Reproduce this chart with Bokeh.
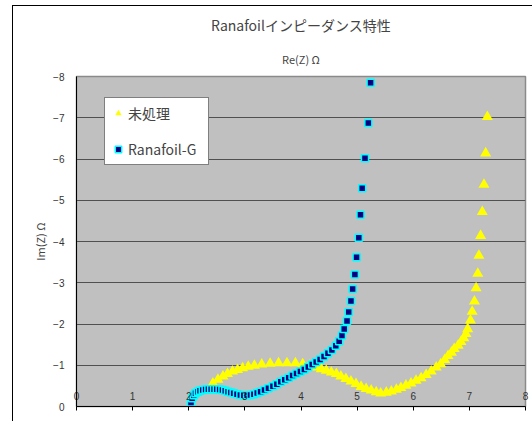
import math
from bokeh.plotting import figure
from bokeh.layouts import column
from bokeh.models import Range1d, Legend, LegendItem, Title
from bokeh.embed import file_html
from bokeh.resources import INLINE

title_text = "Ranafoilインピーダンス特性"
x_title = "Re(Z) Ω"
y_title = "Im(Z) Ω"
series_names = ["未処理", "Ranafoil-G"]
x_ticks = [0, 1, 2, 3, 4, 5, 6, 7, 8]
y_ticks = [0, -1, -2, -3, -4, -5, -6, -7, -8]
y_tick_labels = ["0", "−1", "−2", "−3", "−4", "−5", "−6", "−7", "−8"]

re_untreated = [2.43, 2.52, 2.61, 2.69, 2.78, 2.87, 2.96, 3.06, 3.17, 3.30, 3.45, 3.60,
                3.75, 3.90, 4.03, 4.15, 4.27, 4.36, 4.45, 4.54, 4.63, 4.71, 4.80, 4.89,
                4.98, 5.07, 5.16, 5.25, 5.34, 5.42, 5.52, 5.61, 5.70, 5.78, 5.87, 5.96,
                6.05, 6.14, 6.23, 6.32, 6.41, 6.49, 6.56, 6.62, 6.68, 6.73, 6.80, 6.85,
                6.90, 6.94, 6.97, 7.02, 7.05, 7.09, 7.12, 7.15, 7.17, 7.20, 7.23, 7.26,
                7.29, 7.32]
im_untreated = [-0.56, -0.65, -0.73, -0.79, -0.85, -0.89, -0.93, -0.97, -0.99, -1.02, -1.04, -1.05,
                -1.05, -1.05, -1.03, -0.99, -0.95, -0.91, -0.87, -0.83, -0.79, -0.73, -0.67, -0.61,
                -0.55, -0.48, -0.43, -0.39, -0.35, -0.32, -0.34, -0.37, -0.41, -0.45, -0.51, -0.56,
                -0.63, -0.69, -0.77, -0.85, -0.95, -1.03, -1.13, -1.23, -1.31, -1.40, -1.48, -1.57,
                -1.66, -1.76, -1.88, -2.09, -2.30, -2.55, -2.87, -3.22, -3.66, -4.14, -4.72, -5.38,
                -6.14, -7.02]

re_ranafoil = [2.04, 2.06, 2.09, 2.12, 2.16, 2.20, 2.25, 2.30, 2.35, 2.40, 2.45, 2.50,
               2.55, 2.60, 2.65, 2.70, 2.75, 2.80, 2.86, 2.92, 2.98, 3.04, 3.10, 3.16,
               3.22, 3.28, 3.35, 3.42, 3.50, 3.57, 3.64, 3.71, 3.78, 3.85, 3.92, 3.99,
               4.06, 4.13, 4.20, 4.27, 4.34, 4.41, 4.48, 4.55, 4.62, 4.68, 4.73, 4.77,
               4.82, 4.85, 4.89, 4.92, 4.96, 4.99, 5.03, 5.06, 5.09, 5.14, 5.20, 5.24]
im_ranafoil = [-0.10, -0.20, -0.27, -0.32, -0.36, -0.38, -0.40, -0.41, -0.42, -0.42, -0.42, -0.42,
               -0.41, -0.40, -0.38, -0.36, -0.34, -0.32, -0.30, -0.28, -0.27, -0.27, -0.28, -0.30,
               -0.33, -0.36, -0.40, -0.44, -0.49, -0.54, -0.60, -0.65, -0.70, -0.75, -0.80, -0.85,
               -0.90, -0.96, -1.02, -1.08, -1.14, -1.21, -1.29, -1.37, -1.47, -1.58, -1.72, -1.88,
               -2.07, -2.29, -2.56, -2.85, -3.20, -3.62, -4.09, -4.65, -5.29, -6.02, -6.87, -7.85]

CJK = "Noto Sans CJK JP"

p = figure(width=519, height=415, output_backend="svg", toolbar_location=None,
           x_range=Range1d(x_ticks[0], x_ticks[-1]), y_range=Range1d(y_ticks[0], y_ticks[-1]),
           min_border_left=63, min_border_right=7, min_border_top=70, min_border_bottom=15,
           title=None)
p.margin = 0
p.background_fill_color = "#C0C0C0"
p.border_fill_color = "white"
p.outline_line_color = "#8a8a8a"
p.outline_line_width = 1.5

p.xgrid.visible = False
p.ygrid.ticker = y_ticks
p.ygrid.grid_line_color = "#505050"
p.ygrid.grid_line_width = 1.2

p.xaxis.ticker = x_ticks
p.xaxis.major_label_standoff = -19
p.xaxis.major_tick_out = 4
p.xaxis.major_tick_in = 0
p.xaxis.minor_tick_line_color = None
p.xaxis.axis_line_color = "black"
p.xaxis.major_tick_line_color = "black"
p.xaxis.major_label_text_font = "Liberation Sans"
p.xaxis.major_label_text_font_size = "10px"
p.xaxis.major_label_text_color = "#333333"

p.yaxis.ticker = y_ticks
p.yaxis.major_label_overrides = {t: s for t, s in zip(y_ticks, y_tick_labels)}
p.yaxis.major_tick_out = 0
p.yaxis.major_tick_in = 0
p.yaxis.minor_tick_line_color = None
p.yaxis.major_label_standoff = 12
p.yaxis.axis_line_color = "black"
p.yaxis.major_label_text_font = "Liberation Sans"
p.yaxis.major_label_text_font_size = "10px"
p.yaxis.major_label_text_color = "#333333"

r1 = p.scatter(re_untreated, im_untreated, marker="triangle", size=11,
               fill_color="#FFFF00", line_color=None)
r2 = p.scatter(re_ranafoil, im_ranafoil, marker="square", size=7,
               fill_color="#000080", line_color="#00FFFF", line_width=1.5)

legend = Legend(items=[LegendItem(label=series_names[0], renderers=[r1]),
                       LegendItem(label=series_names[1], renderers=[r2])],
                location=(28, 241), padding=5, spacing=16, glyph_width=16, glyph_height=20,
                label_height=20, label_width=75, label_standoff=2,
                label_text_font=CJK, label_text_font_size="14px",
                border_line_color="black", border_line_width=1,
                background_fill_color="white", background_fill_alpha=1.0, margin=0)
p.add_layout(legend)

p.add_layout(Title(text=x_title, align="center", offset=1, standoff=19,
                   text_font=CJK, text_font_size="11px", text_font_style="normal"), "above")
p.add_layout(Title(text=title_text, align="center", offset=-13, standoff=9,
                   text_font=CJK, text_font_size="14px", text_font_style="normal"), "above")
p.add_layout(Title(text=y_title, align="center", offset=26, standoff=6,
                   text_font=CJK, text_font_size="11px", text_font_style="normal"), "left")

layout = column(p, margin=(5, 0, 0, 12),
                styles={"border-left": "1px solid black", "border-top": "1px solid black"})

open("out.html", "w").write(file_html(layout, INLINE))
